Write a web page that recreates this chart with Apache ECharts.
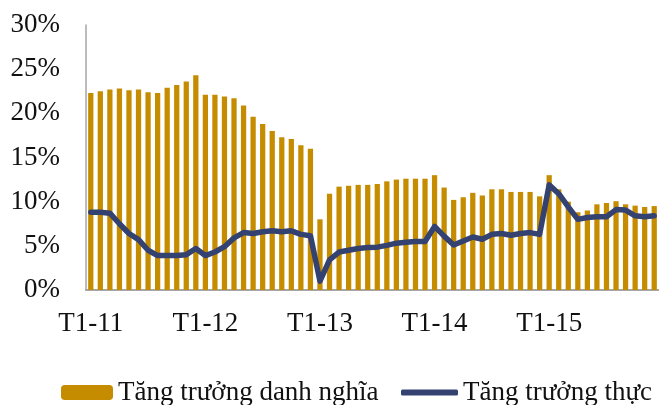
<!DOCTYPE html>
<html>
<head>
<meta charset="utf-8">
<script src="https://cdn.jsdelivr.net/npm/echarts@6/dist/echarts.min.js"></script>
<style>
  html, body { margin: 0; padding: 0; background: #fff; }
  #chart { width: 659px; height: 405px; }
</style>
</head>
<body>
<div id="chart"></div>
<script>
// tháng 1/2011 -> tháng 12/2015
const months = [
  'T1-11','T2-11','T3-11','T4-11','T5-11','T6-11','T7-11','T8-11','T9-11','T10-11','T11-11','T12-11',
  'T1-12','T2-12','T3-12','T4-12','T5-12','T6-12','T7-12','T8-12','T9-12','T10-12','T11-12','T12-12',
  'T1-13','T2-13','T3-13','T4-13','T5-13','T6-13','T7-13','T8-13','T9-13','T10-13','T11-13','T12-13',
  'T1-14','T2-14','T3-14','T4-14','T5-14','T6-14','T7-14','T8-14','T9-14','T10-14','T11-14','T12-14',
  'T1-15','T2-15','T3-15','T4-15','T5-15','T6-15','T7-15','T8-15','T9-15','T10-15','T11-15','T12-15'
];

// Tăng trưởng danh nghĩa (%)
const nominal = [
  22.3, 22.5, 22.7, 22.8, 22.6, 22.7, 22.4, 22.3, 22.9, 23.2, 23.6, 24.3,
  22.1, 22.1, 21.9, 21.7, 20.9, 19.6, 18.8, 18.0, 17.3, 17.1, 16.4, 16.0,
  8.0, 10.9, 11.7, 11.8, 11.9, 11.9, 12.0, 12.3, 12.5, 12.6, 12.6, 12.6,
  13.0, 11.6, 10.2, 10.5, 11.0, 10.7, 11.4, 11.4, 11.1, 11.1, 11.1, 10.6,
  13.0, 11.4, 10.0, 8.8, 9.0, 9.7, 9.85, 10.05, 9.7, 9.55, 9.4, 9.5
];

// Tăng trưởng thực (%)
const real = [
  8.8, 8.8, 8.7, 7.5, 6.4, 5.7, 4.5, 3.9, 3.9, 3.9, 4.0, 4.7,
  3.9, 4.3, 4.9, 5.9, 6.5, 6.4, 6.6, 6.7, 6.6, 6.7, 6.3, 6.15,
  1.0, 3.4, 4.3, 4.5, 4.7, 4.8, 4.85, 5.05, 5.3, 5.4, 5.5, 5.5,
  7.2, 6.1, 5.1, 5.55, 6.0, 5.75, 6.3, 6.4, 6.2, 6.4, 6.5, 6.3,
  11.9, 10.9, 9.4, 8.0, 8.2, 8.3, 8.3, 9.1, 9.05, 8.4, 8.3, 8.4
];

const chart = echarts.init(document.getElementById('chart'));

const serif = '"Liberation Serif", "DejaVu Serif", serif';
const txt = { fontFamily: serif, fontSize: 27, color: '#111' };

chart.setOption({
  animation: false,
  grid: { left: 86, top: 25, width: 575, height: 265 },
  legend: [
    {
      data: ['Tăng trưởng danh nghĩa'],
      left: 61, top: 379, padding: 0,
      itemWidth: 52, itemHeight: 15,
      textStyle: txt
    },
    {
      data: [{ name: 'Tăng trưởng thực', icon: 'roundRect' }],
      left: 401, top: 379, padding: 0,
      itemWidth: 57, itemHeight: 6,
      textStyle: txt
    }
  ],
  xAxis: {
    type: 'category',
    data: months,
    boundaryGap: true,
    axisLine: { lineStyle: { color: '#a6a6a6', width: 2 } },
    axisTick: { show: false },
    axisLabel: Object.assign({ interval: 11, margin: 20 }, txt)
  },
  yAxis: {
    type: 'value',
    min: 0, max: 30, interval: 5,
    axisLine: { show: true, lineStyle: { color: '#a6a6a6', width: 1.5 } },
    axisTick: { show: false },
    splitLine: { show: false },
    axisLabel: Object.assign({ formatter: '{value}%', margin: 26 }, txt)
  },
  series: [
    {
      name: 'Tăng trưởng danh nghĩa',
      type: 'bar',
      data: nominal,
      barWidth: '55%',
      itemStyle: { color: '#C68C00' }
    },
    {
      name: 'Tăng trưởng thực',
      type: 'line',
      data: real,
      symbol: 'none',
      lineStyle: { color: '#344271', width: 5.5, join: 'round', cap: 'round' },
      itemStyle: { color: '#344271' }
    }
  ]
});
</script>
</body>
</html>
